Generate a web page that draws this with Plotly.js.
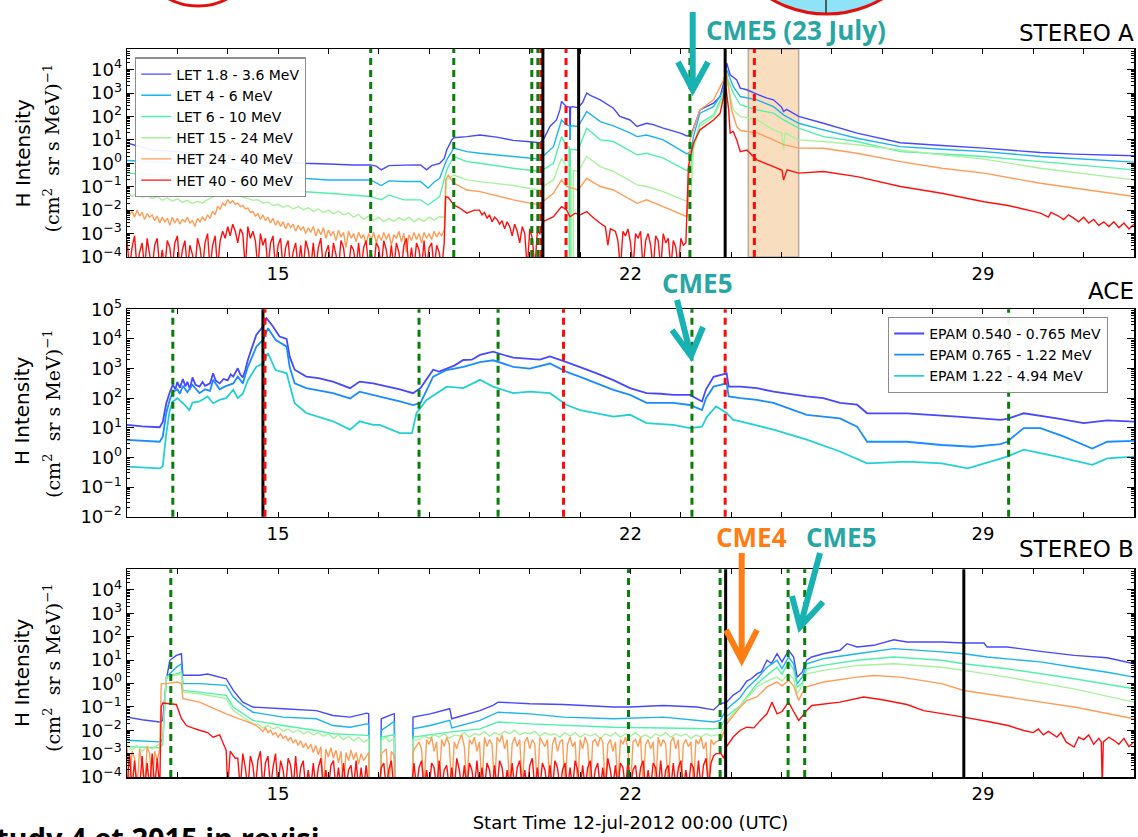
<!DOCTYPE html>
<html><head><meta charset="utf-8">
<script src="https://cdn.plot.ly/plotly-3.0.1.min.js"></script>
<style>html,body{margin:0;padding:0;background:#fff;overflow:hidden}#chart{width:1138px;height:837px}</style>
</head><body><div id="chart"></div>
<script>
// ---------------- DATA (time = day of July 2012, value = log10 of H intensity) ----------------
const xLabelDays = [15, 22, 29];
const staNames = ['LET 1.8 - 3.6 MeV','LET 4 - 6 MeV','LET 6 - 10 MeV','HET 15 - 24 MeV','HET 24 - 40 MeV','HET 40 - 60 MeV'];
const aceNames = ['EPAM 0.540 - 0.765 MeV','EPAM 0.765 - 1.22 MeV','EPAM 1.22 - 4.94 MeV'];

// STEREO A
const A_blue = [[12.0,0.87],[12.49,0.57],[13.01,0.49],[13.5,0.40],[14.0,0.35],[14.5,0.18],[15.0,0.07],[15.5,0.0],[16.0,-0.03],[16.5,-0.07],[16.84,-0.07],[16.95,-0.12],[17.05,-0.28],[17.2,-0.1],[17.5,-0.08],[17.83,-0.07],[17.95,-0.28],[18.05,-0.1],[18.21,0.0],[18.3,0.2],[18.35,0.57],[18.45,1.0],[18.49,1.09],[18.75,1.14],[19.01,1.21],[19.34,1.12],[19.67,0.98],[20.0,0.92],[20.2,0.88],[20.26,1.0],[20.3,1.14],[20.4,1.57],[20.53,1.85],[20.6,2.3],[20.63,2.64],[20.73,2.42],[20.79,2.4],[20.8,1.0],[20.81,2.4],[20.85,2.42],[20.96,2.37],[21.05,2.6],[21.13,3.0],[21.2,2.9],[21.4,2.71],[21.66,2.35],[21.79,2.0],[21.99,1.85],[22.13,1.57],[22.32,1.71],[22.45,1.65],[22.65,1.5],[22.99,1.29],[23.12,1.17],[23.2,1.2],[23.25,1.5],[23.38,2.28],[23.65,2.57],[23.78,2.85],[23.85,3.42],[23.91,4.28],[23.98,3.78],[24.11,3.56],[24.18,3.21],[24.31,3.14],[24.51,2.95],[24.71,2.78],[24.84,2.71],[25.0,2.4],[25.04,2.21],[25.1,2.3],[25.34,2.0],[25.83,1.71],[26.5,1.29],[27.36,0.88],[28.18,0.76],[29.02,0.65],[30.14,0.46],[30.81,0.39],[32.0,0.32]];
const A_cyan = [[12.0,0.12],[13.01,0.0],[14.0,-0.21],[14.5,-0.35],[15.0,-0.57],[16.0,-0.71],[16.84,-0.71],[17.05,-0.95],[17.2,-0.75],[17.5,-0.78],[17.83,-0.78],[17.98,-1.06],[18.1,-0.8],[18.21,-0.64],[18.35,0.15],[18.49,0.65],[18.75,0.5],[19.01,0.43],[19.67,0.29],[20.2,0.18],[20.26,0.29],[20.47,0.71],[20.63,1.85],[20.73,1.64],[20.79,1.6],[20.8,1.0],[20.81,1.6],[20.96,1.57],[21.13,2.21],[21.4,1.78],[21.66,1.6],[21.99,1.3],[22.13,1.14],[22.32,1.21],[22.65,1.0],[23.12,0.4],[23.2,0.5],[23.25,1.14],[23.38,2.14],[23.65,2.42],[23.85,3.14],[23.91,3.99],[24.04,3.28],[24.18,2.85],[24.51,2.71],[24.84,2.42],[25.04,2.07],[25.34,1.71],[25.83,1.43],[26.5,1.07],[27.36,0.71],[28.18,0.6],[29.02,0.5],[30.14,0.29],[32.0,0.05]];
const A_aqua = [[12.0,-0.42],[13.01,-0.57],[14.0,-0.92],[15.0,-1.14],[16.0,-1.28],[16.84,-1.42],[17.05,-1.56],[17.2,-1.35],[17.5,-1.56],[17.83,-1.56],[17.98,-1.78],[18.21,-1.42],[18.35,-0.28],[18.49,0.29],[18.75,0.07],[19.01,0.0],[19.67,-0.21],[20.2,-0.35],[20.26,-0.28],[20.47,0.0],[20.63,1.14],[20.73,0.71],[20.78,0.7],[20.785,-6],[20.8,-6],[20.805,0.6],[20.96,0.57],[21.13,1.5],[21.4,1.0],[21.66,0.93],[22.13,0.36],[22.32,0.43],[22.65,0.22],[23.12,-0.31],[23.2,-0.1],[23.25,0.71],[23.38,1.71],[23.65,2.07],[23.85,3.0],[23.91,3.71],[24.04,3.0],[24.18,2.5],[24.51,2.28],[24.84,2.14],[25.04,1.85],[25.34,1.5],[25.83,1.14],[26.5,0.93],[27.36,0.5],[28.18,0.4],[29.02,0.29],[30.14,0.07],[32.0,-0.28]];
const A_lgreen_noise = [-1.25,-1.40,-1.30,-1.45,-1.38,-1.50,-1.42,-1.58,-1.48,-1.62,-1.52,-1.66,-1.58,-1.72,-1.62,-1.70,-1.55,-1.45,-1.30,-1.22,-1.20,-1.30,-1.28,-1.45,-1.50,-1.58,-1.55,-1.70,-1.65,-1.80,-1.75,-1.88,-1.80,-1.95,-1.85,-1.98,-1.90,-2.05,-1.95,-2.10,-2.00,-2.15,-2.05,-2.20,-2.12,-2.30,-2.18,-2.40,-2.25,-2.45,-2.30,-2.50,-2.35,-2.48,-2.32,-2.45,-2.30,-2.50,-2.35,-2.48,-2.30,-2.42,-2.28,-2.30];
const A_lgreen = [[18.35,-0.71],[18.49,-0.5],[18.75,-0.71],[19.01,-0.78],[19.67,-0.95],[20.2,-1.15],[20.26,-0.99],[20.47,-0.71],[20.63,0.22],[20.73,-0.14],[20.82,-0.2],[20.825,-6],[20.86,-6],[20.865,-0.3],[20.96,-0.35],[21.13,0.29],[21.4,-0.14],[21.66,-0.35],[22.13,-0.92],[22.32,-0.99],[22.65,-1.21],[23.12,-1.63],[23.2,-1.3],[23.25,0.57],[23.38,1.57],[23.65,2.0],[23.85,2.85],[23.91,3.56],[24.04,2.28],[24.18,2.0],[24.51,1.85],[24.71,1.6],[24.84,1.43],[25.0,1.3],[25.04,0.57],[25.07,1.29],[25.34,1.0],[25.83,0.93],[26.5,0.79],[27.36,0.57],[28.18,0.36],[29.02,0.18],[30.14,-0.21],[32.0,-0.71]];
const A_orange_noise = [
 -1.95,-2.20,-2.05,-2.30,-2.00,-2.25,-2.10,-2.40,-2.15,-2.30,
 -2.20,-2.45,-2.25,-2.55,-2.30,-2.50,-2.35,-2.65,-2.30,-2.55,
 -2.35,-2.60,-2.40,-2.50,-2.30,-2.55,-2.45,-2.70,-2.35,-2.50,
 -2.30,-2.45,-2.20,-2.35,-2.05,-2.20,-1.85,-1.95,-1.70,-1.80,
 -1.55,-1.70,-1.60,-1.75,-1.70,-1.85,-1.80,-1.95,-1.90,-2.10,
 -2.05,-2.25,-2.15,-2.40,-2.20,-2.45,-2.30,-2.55,-2.35,-2.65,
 -2.45,-2.70,-2.50,-2.80,-2.55,-2.75,-2.60,-2.90,-2.65,-2.85,
 -2.70,-3.00,-2.75,-2.95,-2.70,-3.10,-2.80,-3.05,-2.75,-3.20,
 -2.85,-3.10,-2.90,-3.30,-2.85,-3.15,-2.95,-3.60,-2.90,-3.20,
 -3.00,-3.35,-2.95,-3.20,-3.05,-3.45,-3.00,-3.25,-2.95,-3.40,
 -3.05,-3.30,-2.95,-3.25,-3.00,-3.50,-3.05,-3.20,-2.90,-3.35,
 -3.00,-3.80,-3.05,-3.30,-2.95,-3.25,-3.00,-3.40,-2.95,-3.20,
 -3.00,-3.25,-2.90,-3.15,-2.95,-3.10,-2.85];
const A_orange = [[18.33,-0.71],[18.38,-0.5],[18.49,-0.85],[18.75,-1.14],[19.01,-1.21],[19.67,-1.56],[20.2,-1.78],[20.26,-1.64],[20.47,-1.28],[20.63,-0.71],[20.73,-0.99],[20.96,-1.14],[21.13,-0.64],[21.4,-0.99],[21.66,-1.14],[22.13,-1.71],[22.32,-1.56],[22.65,-1.85],[23.12,-2.28],[23.15,-1.5],[23.18,1.0],[23.38,2.28],[23.65,2.71],[23.85,3.56],[23.91,3.85],[24.01,2.28],[24.11,1.57],[24.18,1.4],[24.51,1.3],[24.84,1.0],[25.04,0.8],[25.34,0.65],[25.83,0.64],[26.5,0.43],[27.36,0.07],[28.18,-0.21],[29.02,-0.42],[30.14,-0.85],[32.0,-1.42]];
const A_red_noise1 = [
 -3.3,-4.5,-3.6,-3.1,-4.5,-3.8,-3.4,-4.5,-3.2,-3.9,
 -4.5,-3.5,-3.2,-4.5,-3.7,-4.5,-3.3,-3.6,-4.5,-3.4,
 -3.1,-4.5,-3.7,-3.3,-4.5,-3.5,-3.9,-4.5,-3.2,-3.6,
 -4.5,-3.4,-3.0,-4.5,-3.5,-3.1,-4.5,-3.3,-2.9,-3.2,
 -2.7,-3.1,-2.6,-2.9,-3.4,-2.8,-3.0,-4.5,-2.7,-3.2,
 -2.9,-3.3,-4.5,-3.0,-3.5,-3.2,-4.5,-3.4,-3.1,-4.5,
 -3.5,-3.2,-4.5,-3.6,-3.3,-4.5,-3.8,-3.4,-4.5,-3.5,
 -4.5,-3.3,-3.7,-4.5,-3.4,-4.5,-3.6,-3.2,-4.5,-3.8,
 -3.5,-4.5,-3.4,-3.9,-4.5,-3.3,-3.6,-4.5,-4.5,-3.5,
 -3.7,-4.5,-3.4,-4.5,-3.6,-3.3,-4.5,-3.8,-4.5,-3.4,
 -3.6,-4.5,-3.3,-3.7,-4.5,-3.5,-4.5,-3.4,-3.8,-4.5,
 -3.5,-3.2,-4.5,-3.6,-4.5,-3.4,-3.7,-4.5,-3.3,-4.5,
 -3.6,-3.4,-4.5,-3.5,-3.8,-4.5,-3.4];
const A_red_a = [[18.33,-1.42],[18.38,-1.45],[18.49,-1.78],[18.6,-1.9],[18.75,-2.13],[18.9,-2.0]];
const A_red_noise2 = [-2.0,-2.2,-2.1,-2.35,-2.2,-2.5,-2.3,-2.4,-2.6,-2.45,-2.8,-2.5,-2.7,-3.1,-2.6,-2.9,-3.4,-2.7,-3.0,-4.5,-2.8,-3.2,-4.5,-2.9,-3.0];
const A_red_b = [[20.26,-2.49],[20.4,-2.35],[20.47,-2.28],[20.63,-1.85],[20.73,-1.99],[20.8,-2.28],[20.9,-2.13],[21.0,-2.2],[21.13,-2.06],[21.25,-2.3],[21.4,-2.56],[21.5,-2.7],[21.55,-3.5],[21.6,-2.8]];
const A_red_noise3 = [-2.9,-3.3,-4.5,-2.9,-3.1,-2.8,-3.4,-4.5,-3.0,-3.2,-2.9,-4.5,-3.3,-3.0,-3.5,-4.5,-3.1,-3.3,-4.5,-3.0,-3.4,-3.2,-4.5,-3.3,-3.6,-4.5,-3.2,-3.5,-3.4];
const A_red_c = [[23.15,-0.14],[23.25,0.86],[23.38,1.43],[23.65,1.85],[23.78,2.14],[23.85,2.85],[23.88,3.5],[23.95,2.28],[23.98,1.29],[24.04,1.36],[24.11,1.0],[24.18,0.5],[24.31,0.57],[24.51,0.15],[24.84,-0.14],[25.01,-0.3],[25.04,-0.71],[25.11,-0.28],[25.34,-0.42],[25.83,-0.35],[26.5,-0.57],[27.36,-0.99],[28.18,-1.28],[29.02,-1.64],[29.5,-1.8],[29.8,-1.95],[30.0,-2.05],[30.14,-2.13],[30.3,-2.3],[30.35,-2.1],[30.5,-2.25],[30.6,-2.4],[30.7,-2.2],[30.81,-2.35],[30.9,-2.5],[31.0,-2.3],[31.1,-2.55],[31.2,-2.4],[31.3,-2.65],[31.4,-2.5],[31.5,-2.7],[31.6,-2.5],[31.7,-2.75],[31.8,-2.55],[31.9,-2.8],[32.0,-2.6]];

// ACE
const C_blue = [[12.0,1.1],[12.3,1.05],[12.65,1.02],[12.71,1.2],[12.78,1.83],[12.85,2.2],[12.91,2.45],[12.96,2.3],[13.0,2.55],[13.05,2.35],[13.11,2.65],[13.16,2.4],[13.2,2.55],[13.25,2.3],[13.3,2.7],[13.36,2.45],[13.44,2.39],[13.5,2.55],[13.55,2.42],[13.65,2.5],[13.71,2.84],[13.76,2.6],[13.84,2.5],[13.92,2.65],[14.0,2.6],[14.06,2.8],[14.11,2.73],[14.2,3.01],[14.25,2.8],[14.3,2.7],[14.35,2.95],[14.4,3.29],[14.5,3.8],[14.57,4.14],[14.7,4.42],[14.77,4.7],[14.9,4.42],[15.03,4.08],[15.17,4.0],[15.23,3.41],[15.33,2.96],[15.56,2.73],[15.8,2.68],[16.09,2.56],[16.43,2.34],[16.62,2.56],[16.89,2.5],[17.02,2.45],[17.42,2.3],[17.68,2.17],[17.83,2.34],[18.08,2.96],[18.2,2.9],[18.35,3.0],[18.5,3.1],[18.68,3.29],[18.85,3.3],[19.01,3.46],[19.27,3.57],[19.5,3.45],[19.67,3.37],[20.0,3.33],[20.2,3.3],[20.4,3.41],[20.73,3.22],[21.0,3.05],[21.33,2.84],[21.66,2.61],[21.99,2.34],[22.32,2.17],[22.6,2.15],[22.85,2.11],[23.18,2.11],[23.42,1.89],[23.5,2.3],[23.65,2.72],[23.91,2.84],[23.95,2.39],[24.18,2.39],[24.51,2.34],[24.84,2.22],[25.5,2.06],[25.83,2.0],[26.16,1.84],[26.5,1.78],[26.7,1.49],[27.49,1.49],[28.49,1.38],[29.35,1.27],[29.48,1.3],[29.81,1.49],[30.47,1.32],[31.0,1.16],[31.47,1.25],[32.0,1.21]];
const C_dblue = [[12.0,0.59],[12.65,0.53],[12.71,0.7],[12.78,1.5],[12.85,1.95],[12.91,2.2],[13.0,2.3],[13.05,2.15],[13.11,2.42],[13.2,2.2],[13.3,2.45],[13.44,2.17],[13.55,2.3],[13.65,2.25],[13.71,2.62],[13.84,2.3],[13.95,2.4],[14.11,2.5],[14.2,2.73],[14.3,2.5],[14.4,3.06],[14.57,3.74],[14.7,3.97],[14.8,4.36],[14.95,3.97],[15.17,3.74],[15.23,3.06],[15.33,2.5],[15.56,2.34],[16.09,2.17],[16.43,1.99],[16.62,2.22],[17.02,2.05],[17.42,1.89],[17.68,1.77],[17.83,1.84],[18.08,2.73],[18.35,2.95],[18.68,3.06],[19.01,3.22],[19.27,3.28],[19.67,3.06],[20.0,3.0],[20.4,3.17],[20.73,2.89],[21.0,2.72],[21.33,2.5],[21.66,2.28],[21.99,2.11],[22.32,1.84],[22.85,1.84],[23.18,1.77],[23.42,1.6],[23.5,2.0],[23.65,2.39],[23.91,2.5],[23.95,2.06],[24.18,2.0],[24.51,1.94],[24.84,1.84],[25.5,1.44],[25.83,1.38],[26.16,1.32],[26.5,1.04],[26.7,0.53],[27.49,0.53],[28.18,0.42],[28.8,0.36],[29.35,0.45],[29.48,0.53],[29.81,0.99],[30.14,0.99],[30.6,0.71],[31.17,0.3],[31.47,0.53],[32.0,0.56]];
const C_turq = [[12.0,-0.31],[12.65,-0.37],[12.71,-0.3],[12.78,0.8],[12.85,1.6],[12.91,1.89],[13.0,2.0],[13.11,1.83],[13.24,1.6],[13.3,1.85],[13.44,1.89],[13.6,2.06],[13.71,1.83],[13.85,1.95],[13.97,2.0],[14.11,2.28],[14.2,2.0],[14.3,2.15],[14.4,2.6],[14.57,3.06],[14.7,3.17],[14.8,3.52],[14.95,2.95],[15.17,2.84],[15.33,1.83],[15.56,1.5],[16.09,1.22],[16.43,0.94],[16.62,1.22],[16.89,1.1],[17.02,1.1],[17.42,0.82],[17.66,0.82],[17.75,1.5],[17.95,1.94],[18.35,2.39],[18.68,2.34],[19.01,2.62],[19.27,2.39],[19.67,2.17],[20.0,2.22],[20.4,2.17],[20.73,1.77],[21.0,1.6],[21.66,1.38],[21.99,1.44],[22.32,1.16],[22.85,1.1],[23.18,0.99],[23.42,1.04],[23.52,1.38],[23.7,1.72],[23.91,1.5],[24.04,1.27],[24.18,1.22],[24.84,0.94],[25.5,0.6],[26.16,0.2],[26.7,-0.2],[27.49,-0.14],[28.18,-0.2],[28.7,-0.37],[29.48,0.03],[29.81,0.26],[30.47,0.03],[31.17,-0.25],[31.47,-0.03],[32.0,0.03]];

// STEREO B
const B_blue = [[12.0,-1.44],[12.3,-1.55],[12.65,-1.65],[12.71,-1.58],[12.78,0.13],[12.85,0.99],[12.98,1.2],[13.08,1.27],[13.11,0.35],[13.44,0.35],[13.6,0.4],[13.97,0.2],[14.11,-0.3],[14.3,-0.8],[14.5,-1.01],[15.1,-1.08],[15.76,-1.16],[16.09,-1.37],[16.43,-1.44],[16.76,-1.27],[16.8,-1.3],[16.81,-5],[17.04,-5],[17.05,-1.51],[17.29,-1.3],[17.31,-1.3],[17.32,-5],[17.67,-5],[17.68,-1.44],[18.02,-1.3],[18.41,-1.08],[18.45,-1.51],[19.01,-1.16],[19.27,-0.94],[19.37,-0.8],[20.0,-0.87],[20.67,-0.9],[21.66,-1.01],[21.99,-1.01],[22.65,-0.94],[23.32,-1.01],[23.65,-1.13],[23.78,-0.87],[23.91,-0.8],[24.04,-0.5],[24.18,-0.3],[24.31,0.1],[24.4,0.2],[24.51,0.41],[24.6,0.5],[24.71,0.99],[24.8,0.85],[24.91,1.27],[25.01,0.92],[25.14,1.42],[25.24,1.13],[25.31,0.27],[25.41,0.48],[25.5,0.99],[25.6,1.13],[25.83,1.27],[26.16,1.42],[26.3,1.7],[26.5,1.56],[26.83,1.63],[27.23,1.87],[27.49,1.77],[28.18,1.77],[28.62,1.73],[29.02,1.73],[29.08,1.56],[29.48,1.56],[30.14,1.37],[30.81,1.2],[31.47,1.1],[32.0,0.84]];
const B_cyan = [[12.0,-2.43],[12.65,-2.5],[12.71,-2.4],[12.78,0.27],[12.98,0.69],[13.08,0.84],[13.11,-0.01],[13.44,-0.01],[13.97,-0.08],[14.11,-0.58],[14.3,-0.94],[14.5,-1.23],[15.1,-1.44],[15.76,-1.51],[16.09,-1.8],[16.43,-1.87],[16.76,-1.73],[16.8,-1.75],[16.81,-5],[17.04,-5],[17.05,-2.01],[17.29,-1.65],[17.31,-1.65],[17.32,-5],[17.67,-5],[17.68,-1.94],[18.02,-1.8],[18.41,-1.58],[18.45,-1.9],[19.01,-1.58],[19.37,-1.23],[20.0,-1.3],[20.67,-1.44],[21.66,-1.51],[22.65,-1.44],[23.65,-1.65],[23.78,-1.58],[23.91,-1.1],[24.18,-0.6],[24.31,-0.2],[24.51,0.2],[24.71,0.69],[24.91,0.99],[25.01,0.63],[25.14,1.13],[25.24,0.84],[25.31,-0.01],[25.41,0.27],[25.5,0.84],[25.83,1.06],[26.16,1.16],[26.5,1.27],[27.23,1.49],[28.18,1.35],[28.62,1.27],[29.08,1.13],[30.14,0.92],[30.81,0.69],[31.47,0.48],[32.0,0.27]];
const B_aqua = [[12.0,-2.7],[12.65,-2.75],[12.71,-2.6],[12.78,0.27],[13.08,0.48],[13.11,-0.3],[13.44,-0.37],[13.97,-0.51],[14.11,-1.01],[14.5,-1.58],[15.1,-1.8],[15.76,-2.01],[16.09,-2.15],[16.76,-2.22],[16.8,-2.22],[16.81,-5],[17.04,-5],[17.05,-2.29],[17.31,-2.2],[17.32,-5],[17.67,-5],[17.68,-2.29],[18.41,-2.08],[19.01,-1.94],[19.37,-1.65],[20.0,-1.73],[21.66,-1.87],[23.65,-1.94],[23.78,-1.9],[23.91,-1.4],[24.18,-0.94],[24.51,-0.01],[24.91,0.69],[25.01,0.4],[25.14,0.92],[25.24,0.6],[25.31,-0.15],[25.41,0.0],[25.5,0.63],[25.83,0.77],[26.5,0.99],[27.23,1.13],[28.18,0.99],[28.62,0.84],[29.48,0.63],[30.81,0.2],[32.0,-0.23]];
const B_lgreen_noise0 = [-2.6,-2.85,-2.65,-2.9,-2.7,-2.8,-2.65];
const B_lgreen_a = [[12.71,-2.5],[12.78,0.27],[13.08,0.41],[13.11,-0.37],[13.44,-0.44],[13.97,-0.65],[14.11,-1.16],[14.5,-1.73]];
const B_lgreen_noise1 = [-1.75,-1.90,-1.80,-1.95,-1.85,-2.05,-1.95,-2.10,-2.00,-2.15,-2.05,-2.20,-2.10,-2.25,-2.15,-2.35,-2.20,-2.40,-2.25,-2.45,-2.30,-2.50];
const B_lgreen_b = [[16.8,-2.4],[16.81,-5],[17.04,-5],[17.05,-2.43],[17.15,-2.3],[17.2,-2.5],[17.31,-2.35],[17.32,-5],[17.67,-5],[17.68,-2.43]];
const B_lgreen_noise2 = [-2.40,-2.25,-2.35,-2.20,-2.30,-2.15,-2.35,-2.20,-2.25,-2.10,-2.30,-2.15,-2.20,-2.05,-2.25,-2.10,-2.20,-2.05,-2.15,-2.00,-2.20,-2.10,-2.15,-2.05,-2.25,-2.10,-2.20,-2.15,-2.30,-2.10,-2.25,-2.10,-2.30,-2.15,-2.25,-2.15,-2.35,-2.15,-2.25,-2.10,-2.30,-2.15,-2.25,-2.10,-2.30,-2.20,-2.35,-2.15,-2.25,-2.10,-2.30,-2.15,-2.25,-2.15,-2.35,-2.20,-2.30,-2.15,-2.25,-2.20];
const B_lgreen_c = [[23.78,-2.2],[23.91,-1.6],[24.18,-0.94],[24.51,-0.15],[24.71,0.1],[24.91,0.27],[25.01,0.1],[25.14,0.41],[25.24,0.2],[25.31,-0.44],[25.41,-0.1],[25.5,0.41],[25.83,0.56],[26.5,0.77],[27.23,0.84],[28.18,0.69],[28.62,0.56],[29.48,0.27],[30.81,-0.23],[32.0,-0.8]];
const B_orange_noise0 = [-2.7,-4.5,-2.9,-3.2,-4.5,-2.8,-3.5,-4.5,-2.7,-3.0,-4.5,-2.9,-3.3,-2.8];
const B_orange_a = [[12.68,-0.01],[12.78,-0.01],[13.0,0.06],[13.08,0.0],[13.11,-0.65],[13.44,-0.8],[13.97,-1.3],[14.5,-1.73]];
const B_orange_noise1 = [
 -1.85,-1.95,-2.05,-1.90,-2.10,-2.00,-2.20,-2.10,-2.30,-2.15,
 -2.35,-2.25,-2.45,-2.30,-2.55,-2.40,-2.65,-2.45,-2.75,-2.55,
 -2.80,-2.60,-2.95,-2.65,-3.05,-2.70,-4.5,-2.80,-3.15,-2.75,
 -3.20,-2.85,-3.40,-2.90,-4.5,-2.95,-3.30,-2.85,-3.25,-2.95,
 -3.45,-3.00,-3.30];
const B_orange_b = [[16.8,-2.95],[16.81,-5],[17.04,-5],[17.05,-3.0],[17.15,-2.8],[17.2,-4.5],[17.25,-2.9],[17.31,-3.1],[17.32,-5],[17.67,-5],[17.68,-2.9]];
const B_orange_noise2 = [
 -2.5,-2.8,-4.5,-2.4,-2.6,-2.3,-2.9,-2.5,-4.5,-2.4,
 -2.7,-2.3,-2.6,-4.5,-2.5,-2.8,-2.4,-2.2,-2.7,-4.5,
 -2.4,-2.6,-2.3,-2.9,-2.5,-4.5,-2.3,-2.7,-2.4,-2.6,
 -4.5,-2.3,-2.5,-2.2,-2.8,-2.4,-4.5,-2.6,-2.3,-2.7,
 -2.4,-4.5,-2.5,-2.3,-2.8,-2.4,-2.6,-4.5,-2.3,-2.5,
 -2.7,-2.4,-4.5,-2.6,-2.3,-2.9,-2.5,-2.4,-4.5,-2.6,
 -2.3,-2.7,-2.5,-4.5,-2.4,-2.8,-2.3,-2.6,-4.5,-2.5,
 -2.4,-2.7,-2.3,-2.5,-4.5,-2.6,-2.4,-2.9,-2.5,-4.5,
 -2.4,-2.6,-2.3,-2.8,-4.5,-2.5,-2.4,-2.7,-2.3,-4.5,
 -2.6,-2.4,-2.8,-2.5,-4.5,-2.3,-2.7,-2.4,-2.6,-4.5,
 -2.5,-2.3,-2.8,-2.4,-4.5,-2.6,-2.4,-2.7,-2.5,-4.5,
 -2.4,-2.6,-2.3,-2.8,-2.5,-4.5,-2.4,-2.6,-2.5];
const B_orange_c = [[23.8,-2.4],[23.91,-1.73],[24.18,-1.01],[24.31,-0.73],[24.51,-0.58],[24.71,-0.15],[24.91,0.06],[25.01,-0.1],[25.14,0.13],[25.24,-0.1],[25.34,-0.73],[25.41,-0.4],[25.5,-0.15],[25.83,0.06],[26.5,0.27],[26.83,0.34],[27.36,0.27],[28.18,-0.01],[28.62,-0.3],[29.48,-0.58],[30.81,-1.01],[32.0,-1.51]];
const B_red_noise0 = [-4.5,-3.0,-4.5,-3.3,-4.5,-4.5,-3.1,-4.5,-3.4,-4.5,-3.0,-4.5,-3.2,-4.5];
const B_red_a = [[12.68,-1.0],[12.71,-0.84],[12.98,-0.9],[13.08,-1.5],[13.18,-1.8],[13.3,-1.9],[13.44,-2.0],[13.6,-2.1],[13.71,-2.3],[13.84,-2.2],[13.97,-2.86],[14.0,-4.5],[14.05,-2.9],[14.15,-3.2]];
const B_red_noise1 = [
 -3.2,-4.5,-3.0,-3.6,-4.5,-3.1,-3.5,-4.5,-3.3,-2.9,
 -4.5,-3.4,-3.1,-4.5,-3.6,-3.0,-4.5,-3.3,-3.7,-4.5,
 -3.2,-3.5,-4.5,-3.1,-4.5,-3.6,-3.3,-4.5,-3.7,-4.5,
 -3.4,-4.5,-3.6,-3.2,-4.5,-3.7,-4.5,-3.5,-3.3,-4.5,
 -3.6,-4.5,-3.4,-4.5,-3.7,-3.5,-4.5,-3.3,-4.5,-3.6,
 -4.5,-3.5,-4.5,-4.5,-4.5,-4.5,-4.5,-3.6,-3.4,-4.5,
 -3.7,-3.3,-4.5,-4.5,-4.5,-4.5,-4.5,-4.5,-4.5,-4.5,
 -3.4,-4.5,-3.6,-3.3,-4.5,-3.7,-4.5,-3.4,-3.6,-4.5,
 -3.3,-4.5,-3.7,-3.5,-4.5,-3.6,-4.5,-3.2,-3.7,-4.5,
 -3.5,-4.5,-3.4,-3.7,-4.5,-3.3,-4.5,-3.6,-4.5,-3.4,
 -3.7,-4.5,-3.5,-4.5,-3.3,-3.6,-4.5,-3.7,-4.5,-3.4,
 -4.5,-3.6,-3.3,-4.5,-3.7,-4.5,-3.5,-3.2,-4.5,-3.6,
 -4.5,-3.4,-3.7,-4.5,-3.5,-4.5,-3.3,-3.6,-4.5,-3.7,
 -3.4,-4.5,-3.6,-4.5,-3.3,-3.7,-4.5,-3.5,-4.5,-3.6,
 -3.3,-4.5,-3.7,-3.4,-4.5,-3.6,-4.5,-3.2,-3.7,-4.5,
 -3.5,-4.5,-3.4,-3.6,-4.5,-3.3,-4.5,-3.7,-3.5,-4.5,
 -3.6,-3.3,-4.5,-3.7,-4.5,-3.4,-3.6,-4.5,-3.3,-4.5,
 -3.7,-3.5,-4.5,-3.4,-4.5,-3.6,-3.3,-4.5,-3.7,-4.5,
 -3.4,-3.6,-4.5,-3.3,-4.5,-3.5,-3.2,-4.5,-3.4,-3.1,
 -3.0];
const B_red_b = [[23.8,-3.0],[23.85,-3.2],[23.9,-2.72],[24.04,-2.29],[24.18,-2.0],[24.31,-1.87],[24.45,-1.9],[24.58,-1.58],[24.71,-1.3],[24.81,-0.8],[24.91,-1.3],[25.01,-1.2],[25.14,-0.8],[25.24,-1.2],[25.34,-1.58],[25.41,-1.4],[25.5,-1.16],[25.6,-0.94],[26.16,-0.8],[26.63,-0.58],[27.0,-0.7],[27.49,-0.9],[27.82,-1.16],[28.62,-1.44],[29.15,-1.65],[29.5,-1.8],[29.81,-2.01],[30.0,-2.1],[30.1,-1.95],[30.2,-2.2],[30.3,-2.05],[30.47,-2.29],[30.55,-2.1],[30.65,-2.5],[30.81,-2.72],[30.9,-2.3],[31.0,-2.4],[31.1,-2.2],[31.2,-2.6],[31.3,-2.35],[31.35,-2.5],[31.37,-4.5],[31.39,-2.5],[31.5,-2.3],[31.6,-2.43],[31.7,-2.6],[31.8,-2.35],[31.9,-2.7],[32.0,-2.5]];

// event markers (day of July)
const A_greenDash = [16.84, 18.49, 20.04, 20.16, 23.18];
const A_redDash = [20.22, 20.72, 24.46];
const A_blackSolid = [20.26, 20.97, 23.88];
const A_shade = [24.34, 25.34];
const C_greenDash = [12.91, 17.80, 19.37, 23.22, 29.51];
const C_blackSolid = [14.70];
const C_redDash = [14.74, 20.67, 23.88];
const B_greenDash = [12.87, 21.96, 23.78, 25.13, 25.46];
const B_blackSolid = [23.89, 28.62];

// ---------------- BUILD ----------------
const grid = (t0, dt, v) => ({t0, dt, v});
function build(parts){
  const t=[], y=[];
  parts.forEach(p=>{
    if (Array.isArray(p)) p.forEach(([a,b])=>{t.push(a); y.push(Math.pow(10,b));});
    else p.v.forEach((b,i)=>{t.push(+(p.t0+i*p.dt).toFixed(3)); y.push(Math.pow(10,b));});
  });
  return {t,y};
}
const staColors = ['#4848ff','#1cb4ec','#52f0aa','#a8f29a','#ff9d58','#ff1010'];
const aceColors = ['#4848ff','#1a8cff','#24d0d4'];

const A_series = [
  build([A_blue]), build([A_cyan]), build([A_aqua]),
  build([grid(12.0,0.1,A_lgreen_noise), A_lgreen]),
  build([grid(12.0,0.05,A_orange_noise), A_orange]),
  build([grid(12.0,0.05,A_red_noise1), A_red_a, grid(19.0,0.05,A_red_noise2), A_red_b, grid(21.7,0.05,A_red_noise3), A_red_c])
];
const C_series = [build([C_blue]), build([C_dblue]), build([C_turq])];
const B_series = [
  build([B_blue]), build([B_cyan]), build([B_aqua]),
  build([grid(12.0,0.1,B_lgreen_noise0), B_lgreen_a, grid(14.6,0.1,B_lgreen_noise1), B_lgreen_b, grid(17.8,0.1,B_lgreen_noise2), B_lgreen_c]),
  build([grid(12.0,0.05,B_orange_noise0), B_orange_a, grid(14.6,0.05,B_orange_noise1), B_orange_b, grid(17.8,0.05,B_orange_noise2), B_orange_c]),
  build([grid(12.0,0.05,B_red_noise0), B_red_a, grid(14.2,0.05,B_red_noise1), B_red_b])
];

const traces = [];
A_series.forEach((s,i)=>traces.push({type:'scatter',mode:'lines',x:s.t,y:s.y,name:staNames[i],xaxis:'x',yaxis:'y',legend:'legend',
  line:{color:staColors[i],width:1.4,simplify:false},hoverinfo:'skip'}));
C_series.forEach((s,i)=>traces.push({type:'scatter',mode:'lines',x:s.t,y:s.y,name:aceNames[i],xaxis:'x2',yaxis:'y2',legend:'legend2',
  line:{color:aceColors[i],width:1.8,simplify:false},hoverinfo:'skip'}));
B_series.forEach((s,i)=>traces.push({type:'scatter',mode:'lines',x:s.t,y:s.y,name:staNames[i],xaxis:'x3',yaxis:'y3',showlegend:false,
  line:{color:staColors[i],width:1.4,simplify:false},hoverinfo:'skip'}));

// ---------------- LAYOUT ----------------
const W=1138,H=837,ML=127,MR=4,MT=49,MB=60, PW=W-ML-MR, PH=H-MT-MB;
const px = x => (x-ML)/PW, py = y => (H-MB-y)/PH;
const FONT = 'DejaVu Sans, Verdana, sans-serif';

function supLabel(n){ return '10<sup>' + (n<0 ? '\u2212'+(-n) : n) + '</sup>'; }
function yAxis(lo, hi, top, domain, anchor){
  const vals=[], txt=[], minor=[];
  for(let n=lo;n<=top;n++){ vals.push(Math.pow(10,n)); txt.push(supLabel(n)); }
  for(let n=lo;n<=top;n++) for(let k=2;k<=9;k++) minor.push(k*Math.pow(10,n));
  return {type:'log', range:[lo,hi], domain, anchor, tickmode:'array', tickvals:vals, ticktext:txt,
    ticks:'inside', ticklen:7, tickwidth:1, tickcolor:'#000', showline:true, linecolor:'#000', linewidth:1.5, mirror:'ticks',
    showgrid:false, zeroline:false, tickfont:{family:FONT,size:18,color:'#000'},
    minor:{tickmode:'array', tickvals:minor, ticks:'inside', ticklen:3, tickcolor:'#000', tickwidth:1, showgrid:false}};
}
const dayTicks=[], dayText=[];
for(let d=12; d<=32; d++){ dayTicks.push(d); dayText.push(xLabelDays.includes(d)?String(d):' '); }
function xAxis(anchor, extra){
  return Object.assign({range:[12,32], anchor, domain:[0,1], tickmode:'array', tickvals:dayTicks, ticktext:dayText,
    ticks:'inside', ticklen:5, tickcolor:'#000', showline:true, linecolor:'#000', linewidth:1.5, mirror:'ticks',
    showgrid:false, zeroline:false, tickfont:{family:FONT,size:18,color:'#000'}}, extra||{});
}

const shapes=[];
function vline(xr, yr, x, color, dash){
  shapes.push({type:'line', xref:xr, yref:yr+' domain', x0:x, x1:x, y0:0, y1:1, line:{color, width:3, dash}});
}
shapes.push({type:'rect', xref:'x', yref:'y domain', x0:A_shade[0], x1:A_shade[1], y0:0, y1:1, layer:'below',
  fillcolor:'#f9ddbf', line:{color:'#b9ab9c', width:1.5}});
A_greenDash.forEach(x=>vline('x','y',x,'#0b7d0b','7px,5px'));
A_redDash.forEach(x=>vline('x','y',x,'#ff0a0a','7px,5px'));
A_blackSolid.forEach(x=>vline('x','y',x,'#000','solid'));
C_greenDash.forEach(x=>vline('x2','y2',x,'#0b7d0b','7px,5px'));
C_blackSolid.forEach(x=>vline('x2','y2',x,'#000','solid'));
C_redDash.forEach(x=>vline('x2','y2',x,'#ff0a0a','7px,5px'));
B_greenDash.forEach(x=>vline('x3','y3',x,'#0b7d0b','7px,5px'));
B_blackSolid.forEach(x=>vline('x3','y3',x,'#000','solid'));

// arrows (page pixel positions converted to paper coords)
function arrow(shaft0, tip, w1, w2, color){
  const P=(p)=>px(p[0]).toFixed(5)+','+py(p[1]).toFixed(5);
  shapes.push({type:'path', xref:'paper', yref:'paper',
    path:'M'+P(shaft0)+' L'+P(tip)+' M'+P(w1)+' L'+P(tip)+' L'+P(w2), line:{color, width:6}});
}
const TEAL='#19b2b2', TEALTXT='#27a6a4', ORANGE='#ff7d14';
arrow([692.7,12],[692.7,90],[678,62],[708,62],TEAL);
arrow([677,300],[691,356],[672,330],[703,327],TEAL);
arrow([741.7,553],[741.7,660],[726,630],[757,630],ORANGE);
arrow([820,553],[800,627],[792,596],[823,602],TEAL);

// decorative fragments of the slide above the chart
shapes.push({type:'circle', xref:'paper', yref:'paper', x0:px(138), x1:px(258), y0:py(6), y1:py(-110), line:{color:'#e01010', width:3}, fillcolor:'#ffffff'});
shapes.push({type:'circle', xref:'paper', yref:'paper', x0:px(718), x1:px(935), y0:py(14), y1:py(-200), line:{color:'#e01010', width:3}, fillcolor:'#8ee3f7'});
shapes.push({type:'line', xref:'paper', yref:'paper', x0:px(826), x1:px(826), y0:py(0), y1:py(13), line:{color:'#333', width:1.5}});

const annotations = [];
function ylab(cy1, cy2){
  annotations.push({xref:'paper', yref:'paper', x:px(22), y:py(cy1), text:'H Intensity', textangle:-90, showarrow:false,
    xanchor:'center', yanchor:'middle', font:{family:FONT, size:20, color:'#000'}});
  annotations.push({xref:'paper', yref:'paper', x:px(52), y:py(cy2), text:'(cm<sup>2</sup>  sr s MeV)<sup>\u22121</sup>', textangle:-90, showarrow:false,
    xanchor:'center', yanchor:'middle', font:{family:'DejaVu Serif, Liberation Serif, serif', size:19, color:'#000'}});
}
ylab(153.5,148.5); ylab(411,414); ylab(673,668);
function label(text, x, y, anchor, font){
  annotations.push({xref:'paper', yref:'paper', x:px(x), y:py(y), text, showarrow:false, xanchor:anchor, yanchor:'middle', font});
}
const panelFont = {family:FONT, size:23, color:'#000'};
label('STEREO A', 1136, 33, 'right', panelFont);
label('ACE', 1136, 291, 'right', panelFont);
label('STEREO B', 1136, 549, 'right', panelFont);
const cmeFont = c => ({family:'Open Sans, Noto Sans, sans-serif', size:26, color:c, weight:700});
label('<b>CME5 (23 July)</b>', 796, 30, 'center', cmeFont(TEALTXT));
label('<b>CME5</b>', 697, 283, 'center', cmeFont(TEALTXT));
label('<b>CME4</b>', 751, 537, 'center', cmeFont(ORANGE));
label('<b>CME5</b>', 841, 537, 'center', cmeFont(TEALTXT));
annotations.push({xref:'paper', yref:'paper', x:px(-6), y:py(816), xanchor:'left', yanchor:'top', showarrow:false,
  text:'<b>tudy 4 et 2015 in revisi</b>', font:{family:'Open Sans, Noto Sans, sans-serif', size:29, color:'#000'}});

const legendBase = {xanchor:'left', yanchor:'top', bgcolor:'rgba(255,255,255,0.92)', bordercolor:'#8c8c8c', borderwidth:1.2,
  font:{family:FONT, size:14, color:'#000'}, tracegroupgap:0, itemwidth:30, itemclick:false, itemdoubleclick:false};

const layout = {
  width:W, height:H, autosize:false, paper_bgcolor:'#fff', plot_bgcolor:'#fff',
  margin:{l:ML, r:MR, t:MT, b:MB, pad:0},
  font:{family:FONT, color:'#000'},
  xaxis: xAxis('y'),
  xaxis2: xAxis('y2', {matches:'x'}),
  xaxis3: xAxis('y3', {matches:'x', title:{text:'Start Time 12-jul-2012 00:00 (UTC)', font:{family:FONT, size:18, color:'#000'}, standoff:13}}),
  yaxis: yAxis(-4, 4.88, 4, [0.7143, 1], 'x'),
  yaxis2: yAxis(-2, 5, 5, [0.3576, 0.6424], 'x2'),
  yaxis3: yAxis(-4, 4.88, 4, [0, 0.2853], 'x3'),
  showlegend:true,
  legend: Object.assign({x:px(135), y:py(57.3)}, legendBase),
  legend2: Object.assign({x:px(888), y:py(316.7)}, legendBase),
  shapes, annotations
};
Plotly.newPlot('chart', traces, layout, {displayModeBar:false, staticPlot:true});
</script></body></html>
